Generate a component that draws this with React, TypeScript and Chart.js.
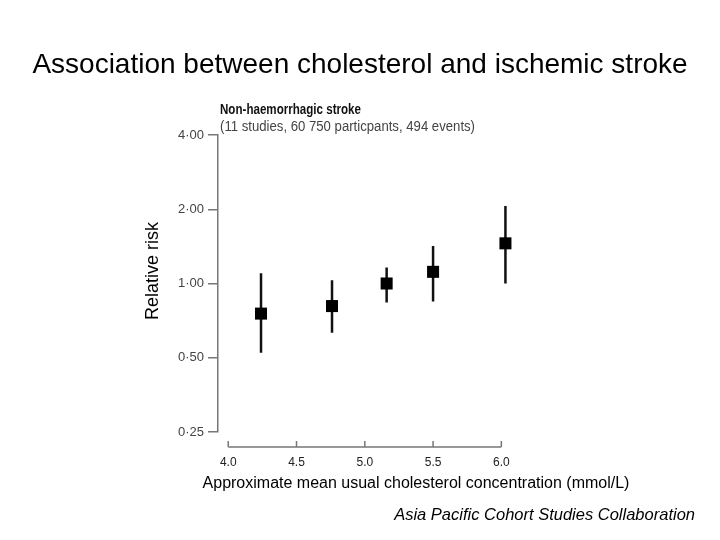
import React, { useEffect, useRef } from "react";
import { Chart, registerables } from "chart.js";

Chart.register(...registerables);

const TITLE = "Association between cholesterol and ischemic stroke";
const Y_TITLE = "Relative risk";
const X_TITLE = "Approximate mean usual cholesterol concentration (mmol/L)";
const SOURCE = "Asia Pacific Cohort Studies Collaboration";
const NOTE_BOLD = "Non-haemorrhagic stroke";
const NOTE_SUB = "(11 studies, 60 750 particpants, 494 events)";

const cholesterol = [4.24, 4.76, 5.16, 5.5, 6.03];
const relativeRisk = [0.755, 0.81, 1.0, 1.115, 1.455];
const ciLow = [0.524, 0.632, 0.837, 0.845, 1.0];
const ciHigh = [1.1, 1.03, 1.16, 1.42, 2.06];

const yTicks = [0.25, 0.5, 1, 2, 4];
const xTicks = [4.0, 4.5, 5.0, 5.5, 6.0];

const SANS = '"Liberation Sans", Arial, sans-serif';

function fillScaledText(ctx: any, text: string, x: number, y: number, targetWidth: number) {
  const w = ctx.measureText(text).width;
  const s = w > 0 ? targetWidth / w : 1;
  ctx.save();
  ctx.translate(x, y);
  ctx.scale(s, 1);
  ctx.fillText(text, 0, 0);
  ctx.restore();
}

const extrasPlugin = {
  id: "extras",
  afterDraw(chart: any) {
    const ctx = chart.ctx;
    const xs = chart.scales.x;
    const area = chart.chartArea;
    ctx.save();
    // x axis line with upward ticks
    const axisY = area.bottom + 15;
    const x0 = xs.getPixelForValue(xTicks[0]);
    const x1 = xs.getPixelForValue(xTicks[xTicks.length - 1]);
    ctx.strokeStyle = "#777";
    ctx.lineWidth = 1.5;
    ctx.beginPath();
    ctx.moveTo(x0, axisY);
    ctx.lineTo(x1, axisY);
    xTicks.forEach((t) => {
      const px = xs.getPixelForValue(t);
      ctx.moveTo(px, axisY);
      ctx.lineTo(px, axisY - 6);
    });
    ctx.stroke();

    ctx.fillStyle = "#000";
    // main title
    ctx.font = `28px ${SANS}`;
    ctx.textAlign = "center";
    ctx.textBaseline = "alphabetic";
    ctx.fillText(TITLE, 360, 72.5);

    // y title
    ctx.save();
    ctx.translate(153, 271);
    ctx.rotate(-Math.PI / 2);
    ctx.font = `18px ${SANS}`;
    ctx.textBaseline = "middle";
    ctx.fillText(Y_TITLE, 0, 0);
    ctx.restore();

    // x title
    ctx.font = `16px ${SANS}`;
    ctx.textAlign = "center";
    ctx.textBaseline = "middle";
    ctx.fillText(X_TITLE, 416, 484);

    // source
    ctx.font = `italic 16.5px ${SANS}`;
    ctx.textAlign = "right";
    ctx.fillText(SOURCE, 695, 515);

    // note
    ctx.textAlign = "left";
    ctx.font = `bold 14px ${SANS}`;
    ctx.fillStyle = "#111";
    fillScaledText(ctx, NOTE_BOLD, 220, 110, 141);
    ctx.font = `14px ${SANS}`;
    ctx.fillStyle = "#444";
    fillScaledText(ctx, NOTE_SUB, 220, 127, 255);
    ctx.restore();
  },
};

export default function App() {
  const ref = useRef<HTMLCanvasElement | null>(null);
  useEffect(() => {
    document.body.style.margin = "0";
    const errData: any[] = [];
    cholesterol.forEach((x, i) => {
      errData.push({ x, y: ciLow[i] });
      errData.push({ x, y: ciHigh[i] });
      errData.push({ x, y: null });
    });
    const chart = new Chart(ref.current as HTMLCanvasElement, {
      type: "scatter",
      data: {
        datasets: [
          {
            data: cholesterol.map((x, i) => ({ x, y: relativeRisk[i] })),
            pointStyle: "rect",
            pointRadius: 8.5,
            backgroundColor: "#000",
            borderColor: "#000",
            borderWidth: 0,
            order: 0,
          },
          {
            data: errData,
            showLine: true,
            spanGaps: false,
            pointRadius: 0,
            borderColor: "#111",
            borderWidth: 2.5,
            order: 1,
          } as any,
        ],
      },
      options: {
        animation: false,
        responsive: false,
        devicePixelRatio: 1,
        layout: { padding: { left: 140, right: 205, top: 135, bottom: 68 } },
        plugins: { legend: { display: false }, tooltip: { enabled: false }, title: { display: false } },
        scales: {
          x: {
            type: "linear",
            min: 3.925,
            max: 6.1,
            grid: { display: false, drawTicks: false },
            border: { display: false },
            afterBuildTicks: (s: any) => {
              s.ticks = xTicks.map((v) => ({ value: v }));
            },
            afterFit: (s: any) => {
              s.height = 40;
            },
            ticks: {
              padding: 23,
              color: "#222",
              font: { family: SANS, size: 12 },
              callback: (v: any) => Number(v).toFixed(1),
            },
          },
          y: {
            type: "logarithmic",
            min: 0.25,
            max: 4,
            grid: {
              display: true,
              drawOnChartArea: false,
              drawTicks: true,
              tickLength: 10,
              color: "#777",
              lineWidth: 1.5,
            },
            border: { display: true, color: "#777", width: 1.5 },
            afterBuildTicks: (s: any) => {
              s.ticks = yTicks.map((v) => ({ value: v }));
            },
            afterFit: (s: any) => {
              s.width = 78;
            },
            ticks: {
              padding: 4,
              color: "#444",
              font: { family: SANS, size: 13 },
              callback: (v: any) => Number(v).toFixed(2).replace(".", "\u00B7"),
            },
          },
        },
      },
      plugins: [extrasPlugin],
    });
    return () => chart.destroy();
  }, []);
  return (
    <div style={{ position: "absolute", left: 0, top: 0, width: 720, height: 540, background: "#fff" }}>
      <canvas ref={ref} width={720} height={540} />
    </div>
  );
}
